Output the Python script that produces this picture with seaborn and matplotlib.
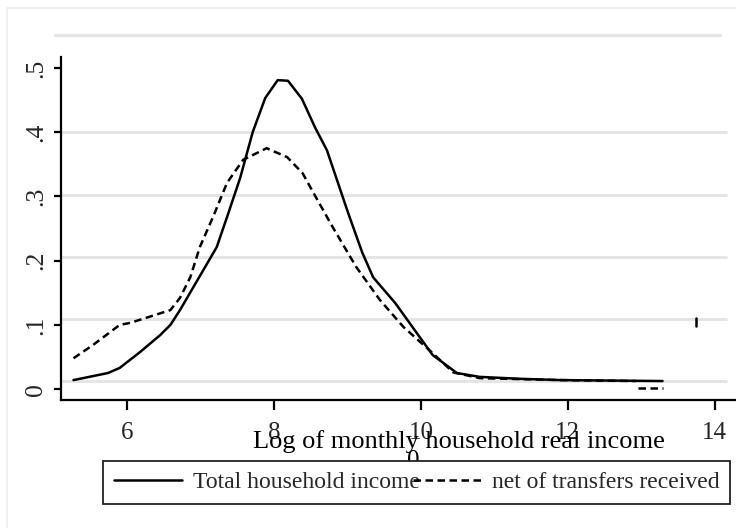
import numpy as np
import pandas as pd
import seaborn as sns
import matplotlib
matplotlib.use("Agg")
import matplotlib.pyplot as plt
from matplotlib.lines import Line2D
from matplotlib.patches import Rectangle

# Kernel density of log monthly household real income
total_x = [5.27, 5.74, 5.90, 6.18, 6.45, 6.59, 6.72, 7.22, 7.37, 7.54, 7.71, 7.88,
           8.05, 8.19, 8.38, 8.56, 8.72, 9.01, 9.20, 9.35, 9.65, 10.16, 10.49,
           10.80, 11.35, 11.90, 13.29]
total_y = [0.014, 0.025, 0.033, 0.058, 0.084, 0.100, 0.123, 0.221, 0.271, 0.329,
           0.400, 0.453, 0.481, 0.480, 0.452, 0.407, 0.372, 0.274, 0.213, 0.174,
           0.134, 0.053, 0.025, 0.019, 0.016, 0.014, 0.0125]

net_x = [5.27, 5.54, 5.90, 6.04, 6.59, 6.72, 6.86, 6.99, 7.17, 7.36, 7.58, 7.90,
         8.18, 8.39, 8.53, 8.80, 9.12, 9.44, 9.76, 10.16, 10.44, 10.80, 11.90, 12.93]
net_y = [0.048, 0.069, 0.100, 0.103, 0.123, 0.142, 0.174, 0.221, 0.268, 0.321,
         0.357, 0.375, 0.361, 0.336, 0.307, 0.252, 0.190, 0.139, 0.097, 0.056,
         0.026, 0.017, 0.014, 0.0125]
net_tail_x = [12.95, 13.29]
net_tail_y = [0.0016, 0.0016]

spike_x = [13.74, 13.74]
spike_y = [0.098, 0.111]

x_ticks = [6, 8, 10, 12, 14]
y_ticks = [0, 0.1, 0.2, 0.3, 0.4, 0.5]
y_tick_labels = ["0", ".1", ".2", ".3", ".4", ".5"]
grid_levels = [0.0125, 0.109, 0.206, 0.302, 0.400]

labels = ["Total household income", "net of transfers received"]
x_title = "Log of monthly household real income"

sns.set_theme(style="white")
plt.rcParams["font.family"] = ["Liberation Serif", "DejaVu Serif"]

W, H = 736, 528
fig = plt.figure(figsize=(W / 100, H / 100), dpi=100)
fig.patch.set_facecolor("white")

def fx(px):
    return px / W

def fy(py):
    return 1 - py / H

# outer frame (left and top edges visible)
fig.patches.append(Rectangle((fx(7), -0.1), 1.2, fy(8) + 0.1, transform=fig.transFigure,
                             fill=False, edgecolor="#ececec", linewidth=1.2, zorder=0))
# top rule
fig.add_artist(Line2D([fx(55), fx(720)], [fy(35), fy(35)], transform=fig.transFigure,
                      color="#e5e5e5", linewidth=2.4, zorder=1))

ax = fig.add_axes([fx(61), fy(400), 1 - fx(61), fy(57) - fy(400)])
ax.set_facecolor("white")
ax.set_xlim(5.10, 14.29)
ax.set_ylim(-0.017, 0.517)

for g in grid_levels:
    ax.plot([5.10, 14.17], [g, g], color="#e5e5e5", linewidth=2.2, zorder=0.5,
            solid_capstyle="butt")

lw = 1.8
sns.lineplot(x=total_x, y=total_y, ax=ax, color="black", linewidth=lw, sort=False,
             estimator=None, zorder=3)
sns.lineplot(x=net_x, y=net_y, ax=ax, color="black", linewidth=lw, sort=False,
             estimator=None, linestyle=(0, (3.0, 1.8)), zorder=3)
sns.lineplot(x=net_tail_x, y=net_tail_y, ax=ax, color="black", linewidth=lw, sort=False,
             estimator=None, linestyle=(0, (3.0, 1.8)), zorder=3)
sns.lineplot(x=spike_x, y=spike_y, ax=ax, color="black", linewidth=1.8, sort=False,
             estimator=None, zorder=3)
h_total = ax.lines[-4]
h_net = ax.lines[-3]

for s in ["top", "right"]:
    ax.spines[s].set_visible(False)
for s in ["left", "bottom"]:
    ax.spines[s].set_visible(True)
    ax.spines[s].set_color("black")
    ax.spines[s].set_linewidth(1.6)

ax.set_xticks(x_ticks)
ax.set_xticklabels([str(t) for t in x_ticks])
ax.set_yticks(y_ticks)
ax.set_yticklabels(y_tick_labels, rotation=90, va="center")
ax.tick_params(axis="x", direction="out", length=7, width=1.6, color="black",
               labelsize=18, pad=9, bottom=True)
ax.tick_params(axis="y", direction="out", length=5, width=1.6, color="black",
               labelsize=18.5, pad=5, left=True)
ax.set_xlabel("")
ax.set_ylabel("")
ax.grid(False)

fig.text(fx(459), fy(448), x_title, ha="center", va="baseline", fontsize=19,
         color="black", zorder=3)
fig.text(fx(413), fy(450), "0", ha="center", va="top", fontsize=18, color="black", zorder=3)

leg = fig.legend(handles=[h_total, h_net], labels=labels, ncol=2,
                 loc="upper left", bbox_to_anchor=(fx(103), fy(461)),
                 bbox_transform=fig.transFigure, borderaxespad=0,
                 fontsize=17, frameon=True, fancybox=False, framealpha=1,
                 edgecolor="#222222", facecolor="white",
                 handlelength=2.9, handletextpad=0.45, columnspacing=-0.3,
                 borderpad=0.45)
leg.get_frame().set_linewidth(1.3)
leg.set_zorder(5)

fig.savefig("out.png", dpi=100)
